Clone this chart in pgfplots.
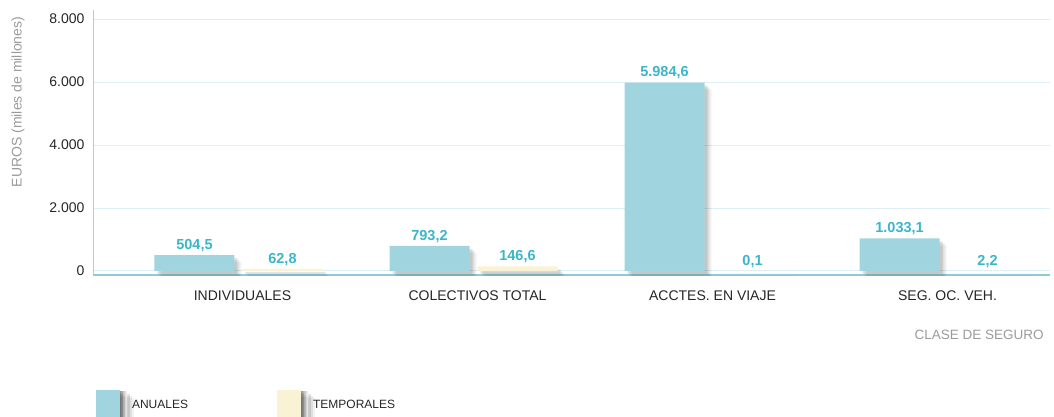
\documentclass[border=0pt]{standalone}
\usepackage{pgfplots}
\pgfplotsset{compat=1.18}
\usepackage{fontspec}
\setmainfont{Liberation Sans}
\definecolor{anual}{HTML}{A0D5DF}
\definecolor{temporal}{HTML}{FAF2D4}
\definecolor{labteal}{HTML}{3BB6C9}
\definecolor{gridc}{HTML}{DDEFF4}
\definecolor{axisc}{HTML}{8ECBD6}
\definecolor{txtgray}{HTML}{9B9B9B}
% stepped soft shadow below and to the right of each bar
\tikzset{
  softshadow/.style={
    preaction={fill=black, fill opacity=0.05, transform canvas={xshift=7pt, yshift=-7pt}},
    preaction={fill=black, fill opacity=0.08, transform canvas={xshift=5pt, yshift=-5pt}},
    preaction={fill=black, fill opacity=0.11, transform canvas={xshift=3pt, yshift=-3pt}},
  },
}

\begin{document}
\begin{tikzpicture}
\useasboundingbox (0,0) rectangle (1054pt,416pt);
\begin{axis}[
  at={(93pt,141pt)}, anchor=south west,
  scale only axis, width=957pt, height=265pt,
  ybar=8pt, bar width=80pt,
  xmin=-0.619, xmax=3.453,
  ymin=-130, ymax=8290,
  xtick={0,1,2,3},
  xticklabels={INDIVIDUALES, COLECTIVOS TOTAL, ACCTES. EN VIAJE, SEG. OC. VEH.},
  ytick={0,2000,4000,6000,8000},
  major tick length=0pt,
  axis x line*=bottom, axis y line*=left,
  x axis line style={axisc, line width=1.2pt, -},
  y axis line style={axisc!80, line width=1pt, -},
  ymajorgrids, grid style={gridc, line width=0.9pt},
  xticklabel style={font=\fontsize{14}{16}\selectfont, text=black!85, yshift=-12pt, xshift=4pt},
  yticklabel style={font=\fontsize{14}{16}\selectfont, text=black!85, xshift=-5pt,
    /pgf/number format/.cd, 1000 sep={.}, assume math mode=true},
  ylabel={EUROS (miles de millones)},
  ylabel style={at={(axis description cs:-0.0784,0.653)}, anchor=center,
    font=\fontsize{14}{16}\selectfont, text=txtgray},
  xlabel={CLASE DE SEGURO},
  xlabel style={at={(axis description cs:0.997,-0.226)}, anchor=east,
    font=\fontsize{13.5}{16}\selectfont, text=txtgray},
  nodes near coords,
  nodes near coords style={font=\bfseries\fontsize{14.5}{16}\selectfont, text=labteal},
  every node near coord/.append style={/pgf/number format/.cd, fixed, fixed zerofill,
    precision=1, use comma, 1000 sep={.}, assume math mode=true},
  legend columns=2,
  legend style={at={(axis description cs:0.003,-0.434)}, anchor=north west,
    draw=none, fill=none, inner sep=0pt,
    font=\fontsize{12}{14}\selectfont, text=black!85,
    /tikz/every odd column/.append style={column sep=3pt},
    /tikz/every even column/.append style={column sep=87pt}},
  legend image code/.code={%
    \shade[left color=black!40, right color=white] (24pt,-12pt) rectangle (31pt,14pt);
    \fill[#1] (0pt,-12pt) rectangle (24pt,15pt);},
]
\addplot[fill=anual, draw=none, softshadow]
  coordinates {(0,504.5) (1,793.2) (2,5984.6) (3,1033.1)};
\addplot[fill=temporal, draw=none, softshadow]
  coordinates {(0,62.8) (1,146.6) (2,0.1) (3,2.2)};
\legend{ANUALES, TEMPORALES}
\end{axis}
\end{tikzpicture}
\end{document}
